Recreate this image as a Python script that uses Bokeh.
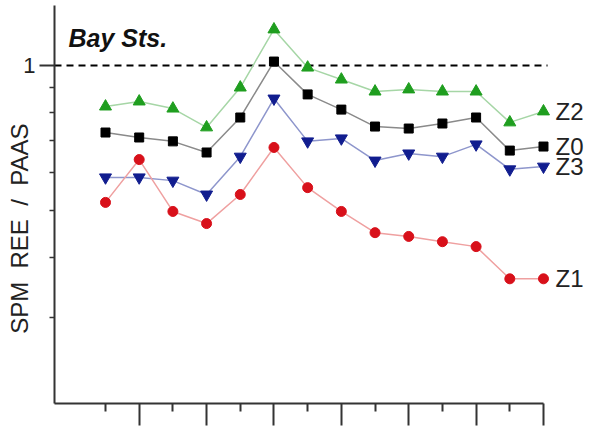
from bokeh.plotting import figure
from bokeh.models import FixedTicker, Label, Range1d
from bokeh.embed import file_html
from bokeh.resources import INLINE
from bokeh.core.properties import value

elements = ["La", "Ce", "Pr", "Nd", "Sm", "Eu", "Gd", "Tb", "Dy", "Ho", "Er", "Tm", "Yb", "Lu"]
idx = list(range(len(elements)))

z2 = [0.822, 0.842, 0.814, 0.744, 0.900, 1.188, 0.990, 0.935, 0.883, 0.892, 0.883, 0.883, 0.762, 0.803]
z0 = [0.726, 0.709, 0.696, 0.660, 0.780, 1.019, 0.871, 0.810, 0.747, 0.740, 0.758, 0.780, 0.666, 0.679]
z3 = [0.586, 0.586, 0.577, 0.540, 0.647, 0.854, 0.696, 0.706, 0.635, 0.657, 0.647, 0.686, 0.609, 0.617]
z1 = [0.520, 0.638, 0.498, 0.470, 0.540, 0.676, 0.558, 0.498, 0.450, 0.442, 0.431, 0.421, 0.361, 0.361]
series_names = ["Z2", "Z0", "Z3", "Z1"]

y_major = [1]
y_minor = [0.3, 0.4, 0.5, 0.6, 0.7, 0.8, 0.9]

X0, X1 = -1.514, 14.425
Y0, Y1 = 0.199, 1.364

p = figure(width=591, height=427, output_backend="svg", toolbar_location=None,
           y_axis_type="log", x_range=Range1d(X0, X1), y_range=Range1d(Y0, Y1),
           min_border_left=54, min_border_right=0, min_border_top=0, min_border_bottom=24)
p.outline_line_color = None
p.grid.visible = False
p.background_fill_color = "white"
p.border_fill_color = "white"

# axes
ax_col = "#333333"
xa = p.xaxis[0]
xa.ticker = FixedTicker(ticks=[i for i in idx if i % 2 == 1], minor_ticks=[i for i in idx if i % 2 == 0])
xa.bounds = (X0, 13)
xa.major_label_overrides = {i: "" for i in idx}
xa.major_label_standoff = 0
xa.major_tick_out = 22
xa.major_tick_in = 0
xa.minor_tick_out = 8
xa.minor_tick_in = 0
xa.axis_line_width = 2
xa.major_tick_line_width = 2
xa.minor_tick_line_width = 2
xa.axis_line_color = ax_col
xa.major_tick_line_color = ax_col
xa.minor_tick_line_color = ax_col

NB = "\u00a0"
ya = p.yaxis[0]
ya.ticker = FixedTicker(ticks=y_major, minor_ticks=y_minor)
ya.bounds = (Y0, 1.332)
ya.major_label_overrides = {1: "1"}
ya.major_label_text_font = "Liberation Sans"
ya.major_label_text_font_size = "22px"
ya.major_label_text_color = "#222222"
ya.major_label_standoff = 4
ya.major_tick_out = 15
ya.major_tick_in = 0
ya.minor_tick_out = 5
ya.minor_tick_in = 0
ya.axis_line_width = 2
ya.major_tick_line_width = 2
ya.minor_tick_line_width = 1.5
ya.axis_line_color = ax_col
ya.major_tick_line_color = ax_col
ya.minor_tick_line_color = ax_col
ya.axis_label = ("SPM" + NB * 2 + "REE" + NB * 2 + "/" + NB * 2 + "PAAS") + NB * 8
ya.axis_label_text_font = "Liberation Sans"
ya.axis_label_text_font_style = "normal"
ya.axis_label_text_font_size = "24px"
ya.axis_label_text_color = "#222222"
ya.axis_label_standoff = -13

# reference line at 1
p.segment(x0=[X0], y0=[1], x1=[13.12], y1=[1], line_color="black", line_width=2, line_dash="7 5")

styles = [
    (z2, "#a6d6a6", "#1f9e1f", "triangle", 12),
    (z0, "#8a8a8a", "#000000", "square", 9),
    (z3, "#8e96cc", "#111d8f", "inverted_triangle", 12),
    (z1, "#efa0a0", "#d8101a", "circle", 10),
]
for vals, lc, mc, marker, sz in styles:
    p.line(idx, vals, line_color=lc, line_width=1.5)
    p.scatter(idx, vals, marker=marker, size=sz, fill_color=mc, line_color=mc)

last_vals = [z2[-1], z0[-1], z3[-1], z1[-1]]
p.text(x=[idx[-1]] * 4, y=last_vals, text=series_names, x_offset=12,
       text_font=value("Liberation Sans"), text_font_size="24px", text_color="#222222",
       text_align="left", text_baseline="middle")

p.add_layout(Label(x=-1.10, y=1.138, text="Bay Sts.", text_font="Liberation Sans",
                   text_font_style="bold italic", text_font_size="25px", text_color="#111111",
                   text_baseline="alphabetic", text_align="left"))

open("out.html", "w").write(file_html(p, INLINE))
